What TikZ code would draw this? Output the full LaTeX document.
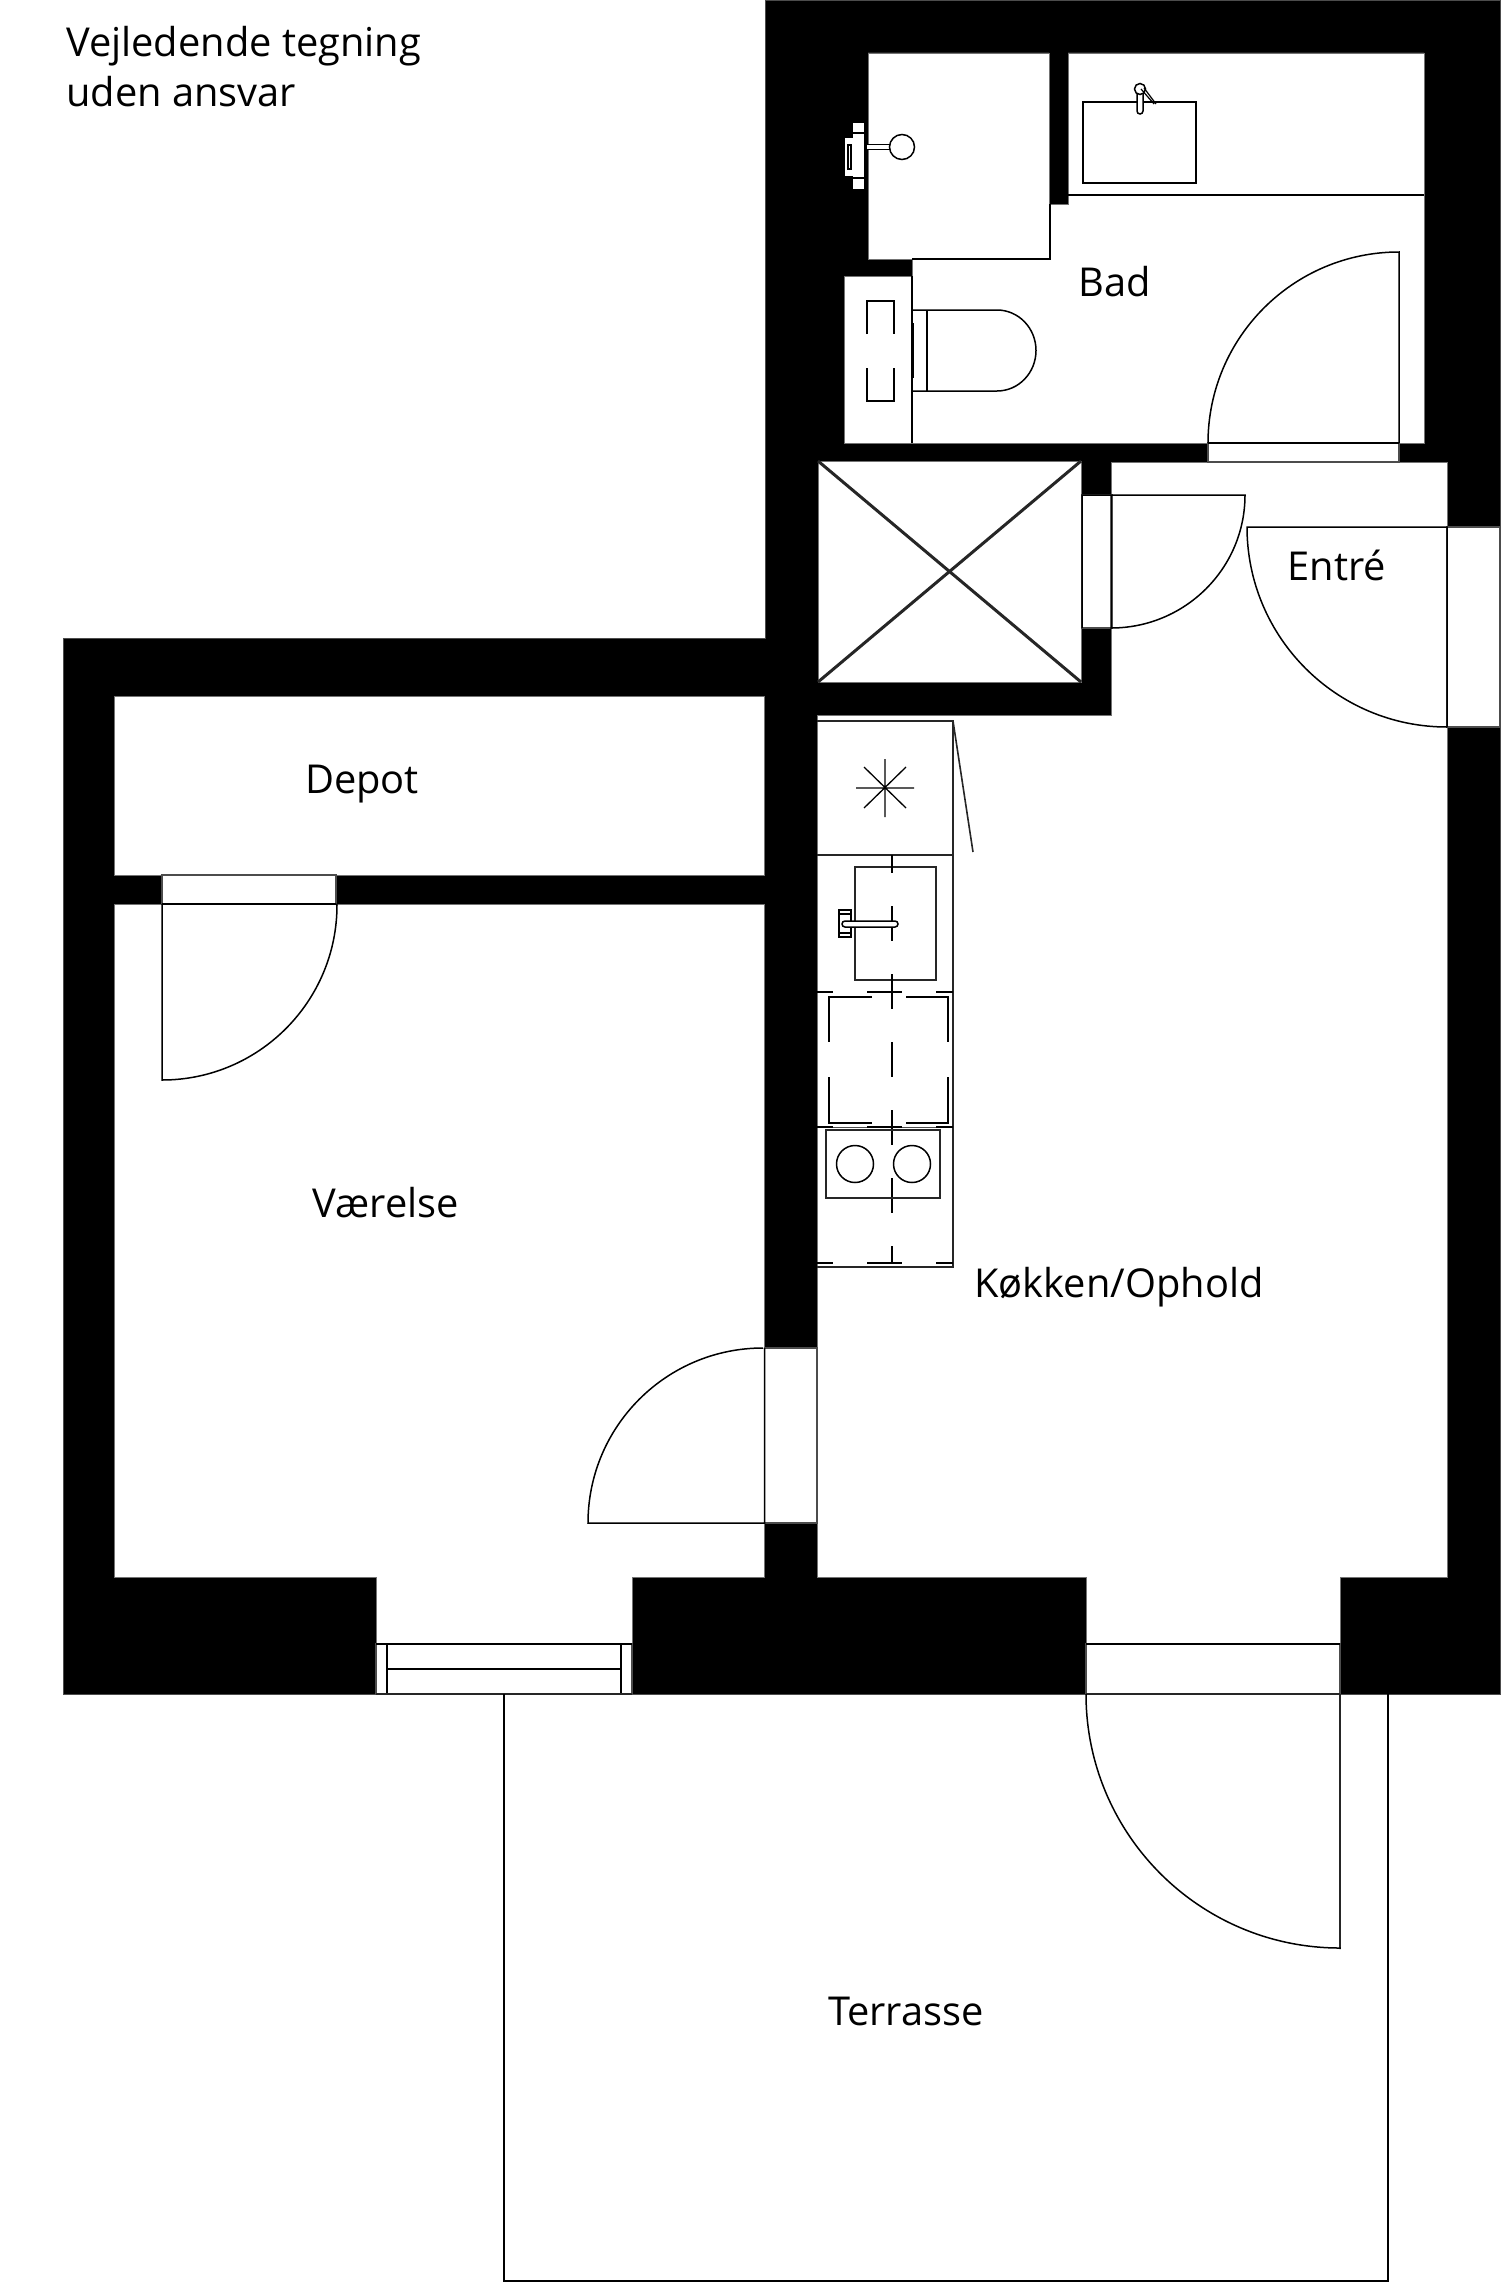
\documentclass[tikz,border=0pt]{standalone}
\usepackage{fontspec}
\setmainfont{Open Sans}
\tikzset{
    wall/.style={
        fill=black, draw=black!70, line width=0.8pt
    },
    room/.style={
        fill=white, draw=black!55, line width=0.8pt
    },
    thinline/.style={
        draw=black, line width=1.5pt
    },
    heavyline/.style={
        draw=black!85, line width=2.4pt
    },
    cabinet/.style={
        draw=black!85, line width=1.6pt
    },
    fixture/.style={
        fill=white, draw=black, line width=1.5pt
    },
    frame/.style={
        fill=white, draw=black!70, line width=1.2pt
    },
    centerdash/.style={
        draw=black, line width=1.8pt, dash pattern=on 35pt off 33pt, dash phase=17pt
    },
    crossdash/.style={
        draw=black, line width=1.8pt, dash pattern=on 35pt off 34pt, dash phase=19pt
    },
    roomlabel/.style={
        font=\fontsize{39.8}{46}\selectfont, text=black, inner sep=0pt, anchor=base
    }
}
\begin{document}
\begin{tikzpicture}[x=1pt,y=-1pt]
    \useasboundingbox (0,0) rectangle (1500,2283);

    % walls
    \fill[wall] (765,0) -- (1500,0) -- (1500,1694) -- (63,1694) -- (63,638) -- (765,638) -- cycle;

    % rooms
    \path[room] (868,53) -- (1049,53) -- (1049,204) -- (1068,204) -- (1068,53) -- (1424,53)
        -- (1424,443) -- (844,443) -- (844,276) -- (912,276) -- (912,259) -- (868,259) -- cycle;
    \path[room] (818,461) rectangle (1081,682);
    \path[room] (1111,462) -- (1447,462) -- (1447,1577) -- (1340,1577) -- (1340,1644) -- (1086,1644)
        -- (1086,1577) -- (817,1577) -- (817,715) -- (1111,715) -- cycle;
    \path[room] (114,696) rectangle (764.5,875);
    \path[room] (114,904) -- (764.5,904) -- (764.5,1577) -- (632,1577) -- (632,1644) -- (376,1644)
        -- (376,1577) -- (114,1577) -- cycle;

    % wall openings
    \path[frame] (1208,443) rectangle (1399,462);
    \path[frame] (1082,495) rectangle (1112,628);
    \path[frame] (1447,527) rectangle (1500,727);
    \path[frame] (162,875) rectangle (336,904);
    \path[frame] (764.5,1348) rectangle (817,1523);
    \path[frame] (376,1644) rectangle (632,1694);
    \path[frame] (1086,1644) rectangle (1340,1694);

    % shower niche
    \draw[thinline] (1050,204) -- (1050,259) -- (912,259);
    \draw[thinline] (1068,195) -- (1424,195);
    \fill[white] (853,123) rectangle (864,189);
    \draw[line width=1.5pt] (853,133) -- (864,133) (853,178) -- (864,178);
    \fill[white] (845,138) rectangle (854,176);
    \fill[black] (847,144) rectangle (851.5,170);
    \draw[white, line width=1pt] (849.2,146) -- (849.2,168);
    \draw[fixture] (866,144.5) rectangle (890,149.5);
    \draw[fixture] (902,147) circle[radius=12.5pt];

    % wash basin
    \draw[thinline] (1083,102) rectangle (1196,183);
    \draw[fixture, rounded corners=3pt] (1137,90) rectangle (1143,114);
    \draw[fixture] (1140,89) circle[radius=5.5pt];
    \draw[line width=1.2pt] (1141,89) -- (1154,104) (1144,88) -- (1156,104);

    % toilet
    \draw[thinline] (912,276) -- (912,443);
    \draw[thinline] (867,334) -- (867,301) -- (894,301) -- (894,334);
    \draw[thinline] (867,368) -- (867,401) -- (894,401) -- (894,368);
    \draw[thinline] (912,310) -- (997,310) arc[start angle=90, end angle=-90, x radius=39pt, y radius=40.5pt] -- (912,391);
    \draw[thinline] (927,310) -- (927,391);
    \draw[line width=2.5pt] (913,323) -- (913,378);

    % bath door
    \draw[thinline] (1208,443) -- (1399,443);
    \draw[thinline] (1208,443) arc[start angle=180, end angle=90, radius=191pt] -- (1399,443);

    % shaft
    \draw[heavyline, line width=3pt] (818,461) -- (1081,682) (1081,461) -- (818,682);

    % shaft door
    \draw[thinline] (1082,628) -- (1082,495) -- (1245,495) arc[start angle=0, end angle=-90, x radius=134pt, y radius=133pt] -- (1111,495);

    % entrance door
    \draw[thinline] (1447,727) -- (1447,527) -- (1247,527) arc[start angle=180, end angle=270, radius=200pt];

    % fridge
    \draw[cabinet] (817,721) -- (953,721) -- (953,1267) -- (817,1267);
    \draw[cabinet] (817,855) -- (953,855);
    \draw[cabinet] (953,721) -- (973,852);
    \draw[line width=1.3pt] (856,788) -- (914,788) (885,759) -- (885,817) (864,767) -- (906,808) (906,767) -- (864,808);

    % kitchen sink
    \draw[cabinet] (855,867) rectangle (936,980);
    \draw[centerdash] (891.7,855) -- (891.7,1263);
    \draw[fixture] (839,910) rectangle (851,937);
    \draw[line width=1.3pt] (839,914) -- (851,914) (839,933) -- (851,933);
    \draw[fixture, rounded corners=3pt] (842,921) rectangle (898,927);

    % oven
    \draw[thinline] (872,997) -- (829,997) -- (829,1042);
    \draw[thinline] (906,997) -- (948,997) -- (948,1042);
    \draw[thinline] (872,1123) -- (829,1123) -- (829,1077);
    \draw[thinline] (906,1123) -- (948,1123) -- (948,1077);
    \draw[crossdash] (817,992) -- (953,992);
    \draw[crossdash] (817,1263) -- (953,1263);
    \draw[line width=1pt, black!70] (817,1127) -- (953,1127);
    \draw[crossdash] (817,1127) -- (953,1127);

    % hob
    \draw[cabinet] (826,1130) rectangle (940,1198);
    \draw[thinline] (855,1164) circle[radius=18.5pt];
    \draw[thinline] (912,1164) circle[radius=18.5pt];

    % depot door
    \draw[thinline] (162,904) -- (336,904);
    \draw[thinline] (162,904) -- (162,1080) arc[start angle=-90, end angle=0, radius=175pt] -- (336,904);

    % bedroom door
    \draw[thinline] (764.5,1348) -- (764.5,1523) -- (588,1523) arc[start angle=180, end angle=90, radius=175pt];

    % window
    \draw[thinline] (376,1644) -- (632,1644);
    \draw[thinline] (387,1644) -- (387,1694) (621,1644) -- (621,1694);
    \draw[thinline] (387,1669) -- (621,1669);
    \draw[heavyline] (376,1694) -- (632,1694);

    % terrace door
    \draw[thinline] (1086,1644) -- (1340,1644);
    \draw[heavyline] (1086,1694) -- (1340,1694);
    \draw[heavyline] (1340,1694) -- (1340,1949);
    \draw[thinline] (1086,1694) arc[start angle=180, end angle=270, radius=254pt] -- (1340,1949);

    % terrace
    \draw[thinline] (504,1694) -- (504,2281) -- (1388,2281) -- (1388,1694);

    \node[roomlabel, anchor=base west] (note) at (66,57) {Vejledende tegning};
    \node[roomlabel, anchor=base west] (notetwo) at ([yshift=-49pt]note.base west) {uden ansvar};
    \node[roomlabel] (bad) at (1115,296) {Bad};
    \node[roomlabel] (entre) at (1337,580) {Entré};
    \node[roomlabel] (depot) at (362,793) {Depot};
    \node[roomlabel] (vaerelse) at (386,1217) {Værelse};
    \node[roomlabel] (koekken) at (1119,1297) {Køkken/Ophold};
    \node[roomlabel] (terrasse) at (906,2025) {Terrasse};
\end{tikzpicture}
\end{document}
